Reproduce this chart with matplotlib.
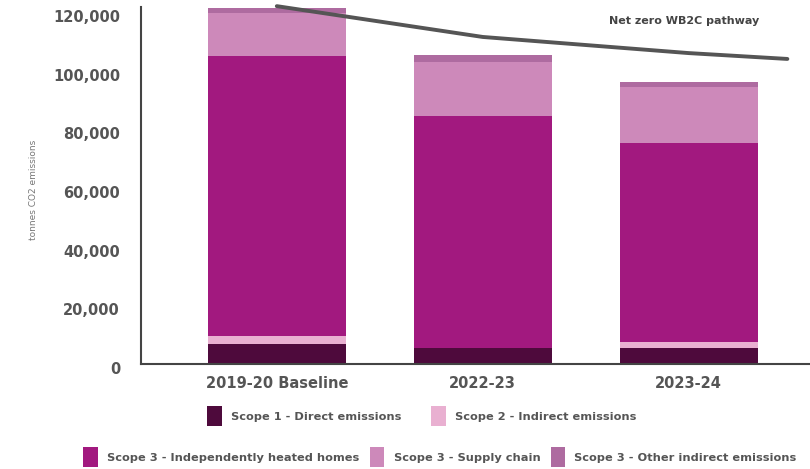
import matplotlib
matplotlib.use("Agg")
import matplotlib.pyplot as plt
from matplotlib.patches import Patch
from matplotlib.transforms import ScaledTranslation

# data (tonnes CO2)
years = ["2019-20 Baseline", "2022-23", "2023-24"]
scope1_direct = [6900, 5500, 5500]
scope2_indirect = [2700, 0, 2100]
scope3_homes = [95300, 79100, 67600]
scope3_supply = [14800, 18400, 19300]
scope3_other = [1600, 2300, 1600]

# net zero WB2C pathway (x in category units)
path_x = [0, 1, 2, 2.48]
path_y = [122000, 111500, 106000, 104000]

yticks = [0, 20000, 40000, 60000, 80000, 100000, 120000]

series = [
    ("Scope 1 - Direct emissions", scope1_direct, "#4e0a3c"),
    ("Scope 2 - Indirect emissions", scope2_indirect, "#e9b0d1"),
    ("Scope 3 - Independently heated homes", scope3_homes, "#a2197f"),
    ("Scope 3 - Supply chain", scope3_supply, "#cd89ba"),
    ("Scope 3 - Other indirect emissions", scope3_other, "#ae6ba0"),
]

TXT = "#555555"

fig = plt.figure(figsize=(8.1, 4.69), dpi=100)
ax = fig.add_axes([0.174, 0.224, 0.826, 0.761])

x = list(range(len(years)))
bottom = [0] * len(years)
handles = []
for name, vals, col in series:
    ax.bar(x, vals, 0.67, bottom=bottom, color=col, linewidth=0)
    bottom = [b + v for b, v in zip(bottom, vals)]
    handles.append(Patch(facecolor=col, label=name))

ax.plot(path_x, path_y, color="#555555", lw=2.8, solid_capstyle="round",
        clip_on=False, zorder=5)
ax.text(1.98, 117000, "Net zero WB2C pathway", ha="center", va="center",
        fontsize=8, fontweight="bold", color="#444444")

ax.set_xlim(-0.66, 2.59)
ax.set_ylim(0, 121700)
ax.set_yticks(yticks)
ax.set_yticklabels([f"{v:,}" for v in yticks])
ax.set_xticks(x)
ax.set_xticklabels(years)
ax.tick_params(axis="y", length=0, pad=15, labelsize=10.5, labelcolor=TXT)
ax.tick_params(axis="x", length=0, pad=9, labelsize=10.5, labelcolor=TXT)
for lab in ax.get_xticklabels() + ax.get_yticklabels():
    lab.set_fontweight("bold")
# y labels sit a few pixels below their gridline in the original
shift = ScaledTranslation(0, -3 / 72, fig.dpi_scale_trans)
for lab in ax.get_yticklabels():
    lab.set_transform(lab.get_transform() + shift)

for s in ["top", "right"]:
    ax.spines[s].set_visible(False)
for s in ["left", "bottom"]:
    ax.spines[s].set_color("#444444")
    ax.spines[s].set_linewidth(1.5)

fig.text(33 / 810, 1 - 190 / 469, "tonnes CO2 emissions", rotation=90,
         ha="center", va="center", fontsize=6.5, color="#777777")

leg_kw = dict(frameon=False, handlelength=1.3, handleheight=2.3,
              handletextpad=0.8, prop={"size": 8.2, "weight": "bold"},
              labelcolor=TXT, loc="center")
leg1 = fig.legend(handles=handles[:2], ncol=2, columnspacing=2.6,
                  bbox_to_anchor=(422 / 810, 1 - 416 / 469), **leg_kw)
leg2 = fig.legend(handles=handles[2:], ncol=3, columnspacing=0.9,
                  bbox_to_anchor=(440 / 810, 1 - 457 / 469), **leg_kw)

fig.savefig("out.png", dpi=100)
